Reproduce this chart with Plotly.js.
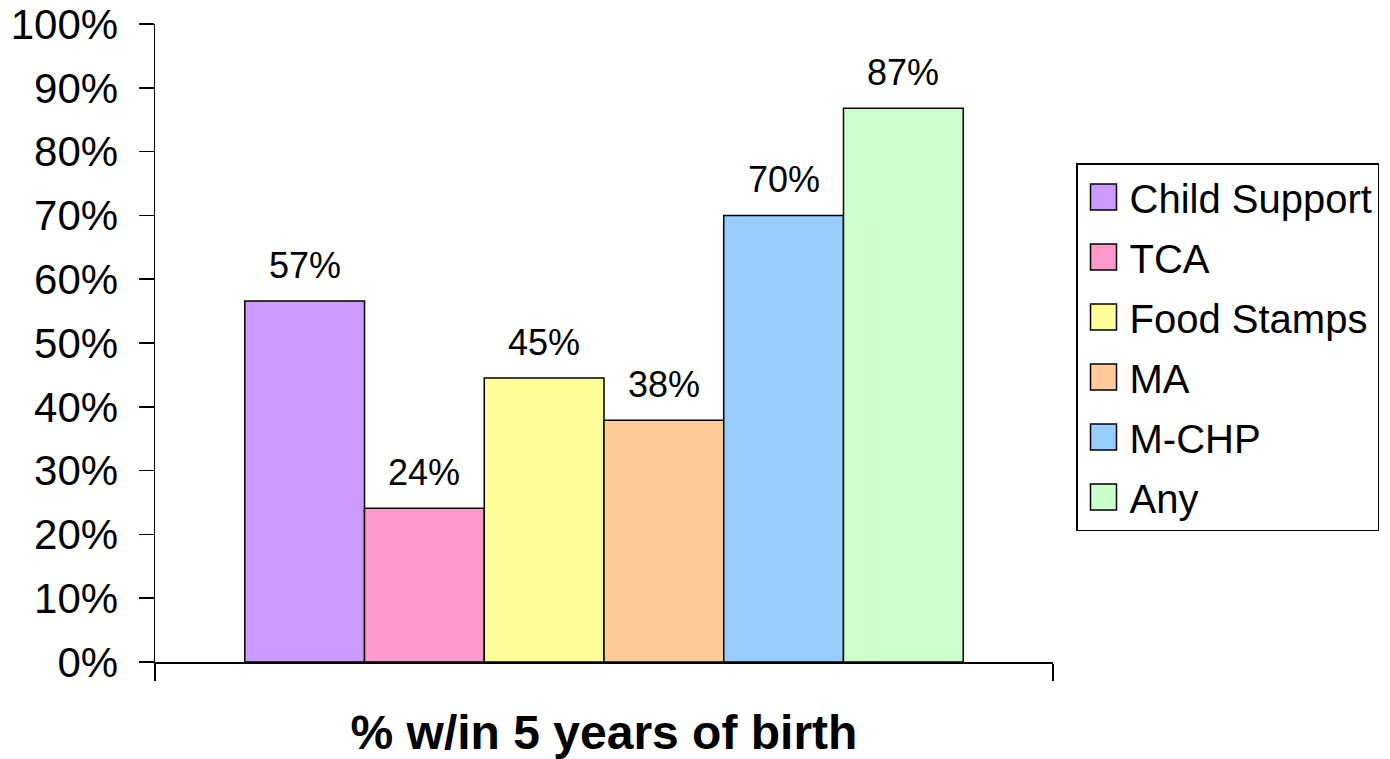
<!DOCTYPE html>
<html>
<head>
<meta charset="utf-8">
<script src="https://cdn.plot.ly/plotly-3.0.1.min.js"></script>
<style>html,body{margin:0;padding:0;background:#fff;}#chart{width:1390px;height:759px;}</style>
</head>
<body>
<div id="chart"></div>
<script>
const category = ["% w/in 5 years of birth"];
const seriesNames = ["Child Support", "TCA", "Food Stamps", "MA", "M-CHP", "Any"];
const seriesValues = [0.566, 0.241, 0.445, 0.379, 0.70, 0.868];
const seriesColors = ["#CC99FF", "#FF99CC", "#FFFF99", "#FFCC99", "#99CCFF", "#CCFFCC"];
const yTickVals = [0, 0.1, 0.2, 0.3, 0.4, 0.5, 0.6, 0.7, 0.8, 0.9, 1.0];
const yTickText = ["0%", "10%", "20%", "30%", "40%", "50%", "60%", "70%", "80%", "90%", "100%"];

const font = "Liberation Sans, Arial, sans-serif";
const bargap = 0.2;
const nSeries = seriesNames.length;

const traces = seriesNames.map((name, i) => ({
  type: "bar",
  name: name,
  legendgroup: "g" + i,
  x: category,
  y: [seriesValues[i]],
  marker: {color: seriesColors[i], line: {color: "#000", width: 1.5}},
  hoverinfo: "none"
}));

// value labels above each bar, placed at the bar's centre on the category axis
const annotations = seriesValues.map((v, i) => ({
  xref: "x", yref: "y",
  x: -(1 - bargap) / 2 + (1 - bargap) * (i + 0.5) / nSeries,
  y: v,
  text: Math.round(v * 100) + "%",
  showarrow: false,
  xanchor: "center", yanchor: "bottom",
  yshift: 13,
  font: {family: font, size: 36, color: "#000"}
}));

const layout = {
  width: 1390, height: 759,
  margin: {l: 155, r: 337, t: 24, b: 97, autoexpand: false},
  paper_bgcolor: "#fff", plot_bgcolor: "#fff",
  barmode: "group", bargap: bargap, bargroupgap: 0,
  font: {family: font, color: "#000"},
  showlegend: true,
  annotations: annotations,
  legend: {
    x: (1076-155)/898, xref: "paper", xanchor: "left",
    y: (662-163)/638, yref: "paper", yanchor: "top",
    bordercolor: "#000", borderwidth: 1.5, bgcolor: "#fff",
    font: {family: font, size: 40, color: "#000"},
    tracegroupgap: 5, traceorder: "grouped", itemwidth: 42
  },
  xaxis: {
    type: "category",
    range: [-0.5, 0.5],
    showline: true, linecolor: "#000", linewidth: 1.5,
    ticks: "outside", tickson: "boundaries", ticklen: 17, tickcolor: "#000", tickwidth: 1.5,
    showticklabels: false, showgrid: false, zeroline: false, fixedrange: true,
    title: {text: category[0], font: {family: font, size: 48, weight: "bold", color: "#000"}, standoff: 60}
  },
  yaxis: {
    range: [0, 1],
    tickvals: yTickVals, ticktext: yTickText,
    showline: true, linecolor: "#000", linewidth: 1.5,
    ticks: "outside", ticklen: 15, tickcolor: "#000", tickwidth: 1.5,
    tickfont: {family: font, size: 42, color: "#000"},
    ticklabelstandoff: 12,
    showgrid: false, zeroline: false, fixedrange: true
  }
};

Plotly.newPlot("chart", traces, layout, {displayModeBar: false, staticPlot: true}).then(gd => {
  // enlarge the legend swatches to match the reference's bigger squares
  gd.querySelectorAll(".legend .legendpoints path").forEach(p => {
    p.setAttribute("d", "M13,13H-13V-13H13Z");
  });
});
</script>
</body>
</html>
